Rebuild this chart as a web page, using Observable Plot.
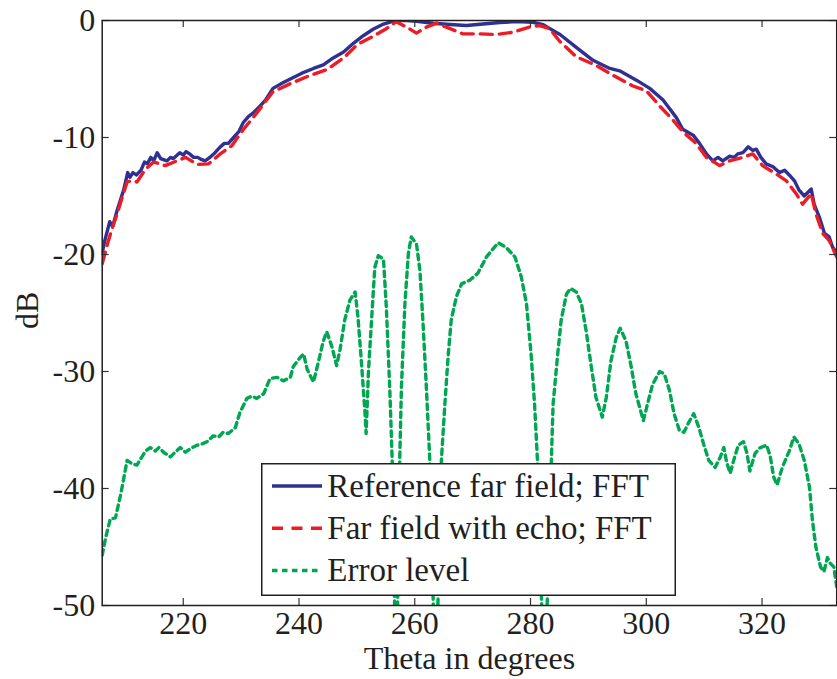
<!DOCTYPE html>
<html>
<head>
<meta charset="utf-8">
<script src="https://cdn.jsdelivr.net/npm/d3@7"></script>
<script src="https://cdn.jsdelivr.net/npm/@observablehq/plot@0.6"></script>
<style>
  html, body { margin: 0; padding: 0; background: #fff; }
  #wrap { position: relative; width: 837px; height: 679px; overflow: hidden; }
  #legend { position: absolute; left: 261px; top: 463px; }
</style>
</head>
<body>
<div id="wrap"></div>
<script>
// ---- data ----
const xTicks = [220, 240, 260, 280, 300, 320];
const yTicks = [-50, -40, -30, -20, -10, 0];
const seriesNames = ["Reference far field; FFT", "Far field with echo; FFT", "Error level"];
const seriesColors = ["#2E3192", "#ED1C24", "#00A651"];

const refTheta = [206.0,206.4,207.3,207.8,208.6,209.3,209.7,210.4,210.8,211.3,211.9,212.7,213.3,213.8,214.4,214.9,215.5,216.1,217.2,217.8,218.3,219.4,220.0,220.5,221.1,221.8,222.5,223.2,223.8,224.6,225.5,226.4,227.1,227.8,228.7,229.6,230.4,231.3,232.1,233.3,234.2,235.5,237.3,238.5,240.5,242.5,244.2,245.9,247.7,249.4,251.1,252.8,254.6,256.3,257.4,258.6,260.3,263.2,266.1,268.9,271.8,274.7,277.6,280.4,282.2,284.4,285.1,287.9,290.8,293.7,295.4,298.3,300.6,302.9,305.2,306.3,308.1,309.2,310.4,311.5,312.4,313.2,314.4,315.2,315.8,316.7,317.6,318.4,319.0,319.8,320.7,321.9,323.0,323.9,324.7,325.6,326.4,327.3,328.5,329.0,329.9,330.8,331.6,332.2,332.9];
const refDb = [-19.9,-18.9,-17.2,-17.6,-16.2,-15.1,-14.5,-13.0,-13.4,-13.0,-13.2,-12.8,-12.1,-12.25,-11.7,-12.0,-11.3,-11.8,-12.0,-11.7,-11.8,-11.3,-11.5,-11.2,-11.4,-11.7,-11.7,-11.9,-12.0,-11.7,-11.3,-10.8,-10.5,-10.5,-10.0,-9.5,-8.7,-8.2,-7.9,-7.3,-6.8,-5.8,-5.3,-5.0,-4.5,-4.1,-3.8,-3.2,-2.7,-1.95,-1.3,-0.75,-0.3,-0.06,0,0,-0.06,-0.23,-0.34,-0.43,-0.3,-0.17,-0.1,-0.15,-0.35,-1.0,-1.2,-2.3,-3.4,-4.1,-4.3,-5.1,-5.8,-6.8,-8.3,-9.3,-9.8,-10.5,-11.4,-12.0,-11.7,-12.0,-11.6,-11.7,-11.4,-11.3,-10.8,-11.1,-11.0,-11.7,-12.25,-12.5,-13.0,-12.8,-13.2,-13.7,-14.5,-15.0,-14.4,-15.7,-16.8,-18.2,-18.5,-19.4,-19.8];

const echoTheta = [206.0,206.9,207.7,208.6,209.4,210.3,211.0,212.0,213.5,214.9,216.9,218.9,220.4,222.4,224.4,226.4,228.4,230.4,232.4,234.4,235.5,238.5,241.9,244.8,247.7,250.1,252.8,255.1,256.8,258.6,260.3,262.0,263.8,266.1,268.3,271.2,274.1,277.0,279.8,281.6,283.3,285.0,287.9,291.4,294.3,297.7,300.0,302.3,304.6,306.3,308.6,310.4,312.7,314.4,316.7,318.4,320.1,322.4,324.2,325.9,327.0,328.5,329.3,330.5,331.6,332.9];
const echoDb = [-20.8,-19.1,-17.8,-16.5,-15.2,-13.8,-13.7,-13.8,-12.7,-12.1,-12.4,-12.0,-11.7,-12.3,-12.25,-11.4,-10.7,-9.3,-8.1,-6.8,-6.1,-5.4,-4.7,-4.2,-3.2,-2.05,-1.35,-0.7,-0.1,-0.57,-1.08,-0.57,-0.23,-0.7,-1.14,-1.14,-1.2,-1.0,-0.57,-0.43,-0.7,-1.75,-3.1,-3.85,-4.7,-5.6,-6.0,-7.3,-8.5,-9.5,-10.5,-11.7,-12.4,-12.0,-11.7,-11.4,-12.4,-13.1,-13.7,-14.8,-15.7,-14.8,-16.5,-18.2,-18.8,-20.2];

const errTheta = [206.0,206.6,207.4,208.3,209.2,209.7,210.3,211.2,212.0,212.6,213.5,214.3,215.2,215.8,216.6,217.8,218.6,219.5,220.4,221.2,222.4,223.2,224.1,225.2,226.1,226.9,227.8,229.0,229.8,231.0,231.9,232.7,233.9,235.0,236.2,237.3,238.5,239.0,240.2,240.8,241.4,242.5,243.3,244.2,244.8,245.7,246.5,247.1,247.9,248.8,249.7,250.2,250.8,251.4,251.6,252.0,252.6,253.1,253.7,254.6,255.1,255.7,256.1,256.8,257.4,257.7,258.3,258.9,259.4,260.3,260.9,261.4,262.0,262.6,263.6,264.6,265.2,265.8,266.3,267.2,268.1,269.5,270.9,272.4,274.4,275.8,277.3,278.4,279.3,280.1,280.7,281.2,282.4,283.6,283.9,284.7,285.3,286.2,286.9,287.9,288.8,289.6,290.5,291.3,292.4,293.1,293.9,294.8,295.5,296.5,297.4,298.2,299.5,300.2,301.1,302.3,303.1,304.0,304.8,305.7,306.5,307.4,308.2,309.1,309.9,310.8,311.9,312.8,313.4,313.9,314.5,315.1,315.9,316.8,317.4,317.9,318.8,319.7,320.8,321.4,322.0,322.6,323.5,324.7,325.5,326.4,327.3,328.2,328.7,329.3,330.1,330.7,331.3,331.8,332.4,332.9];
const errDb = [-45.7,-44.2,-42.6,-42.5,-40.5,-39.2,-37.6,-37.9,-38.0,-37.5,-36.8,-36.5,-36.8,-36.5,-36.9,-37.3,-36.9,-36.5,-36.9,-36.6,-36.3,-36.2,-36.0,-35.5,-35.6,-35.2,-35.3,-34.8,-33.5,-32.3,-32.1,-32.3,-31.9,-30.6,-30.5,-30.8,-30.5,-29.6,-28.8,-28.5,-29.8,-30.9,-29.3,-27.4,-26.6,-27.9,-29.5,-28.1,-25.6,-23.9,-23.2,-25.4,-29.3,-33.5,-35.3,-30.0,-25.1,-21.1,-20.1,-20.4,-24.6,-31.7,-37.6,-58,-37.6,-31.3,-24.2,-19.9,-18.5,-19.1,-21.4,-25.6,-31.3,-37.6,-58,-37.6,-32.8,-28.5,-25.6,-23.6,-22.5,-22.2,-21.6,-20.2,-19.0,-19.4,-20.2,-21.9,-24.2,-28.5,-32.8,-37.6,-58,-37.6,-32.8,-28.5,-25.6,-23.4,-22.9,-23.2,-24.2,-26.5,-29.6,-32.2,-33.9,-32.2,-29.1,-27.1,-26.3,-27.4,-29.6,-31.9,-34.2,-32.8,-31.1,-30.0,-30.2,-31.6,-33.6,-35.0,-35.2,-34.3,-33.6,-34.8,-36.2,-37.6,-38.2,-37.3,-36.5,-37.8,-38.7,-37.6,-36.3,-36.0,-37.0,-38.5,-37.0,-36.5,-36.3,-37.2,-39.0,-39.7,-38.2,-36.8,-35.6,-36.2,-37.6,-39.9,-42.7,-45.0,-46.7,-47.1,-45.9,-46.4,-46.7,-48.4];

const ref = refTheta.map((t, i) => ({theta: t, db: refDb[i]}));
const echo = echoTheta.map((t, i) => ({theta: t, db: echoDb[i]}));
const err = errTheta.map((t, i) => ({theta: t, db: errDb[i]}));

// ---- layout ----
const W = 837, H = 679;
const mL = 101.7, mR = 0.8, mT = 20, mB = 74;
const frameW = W - mL - mR, frameH = H - mT - mB;
const tickLen = 7;
const ink = "#231F20";
const font = "'Liberation Serif', 'Times New Roman', Times, serif";

const chart = Plot.plot({
  width: W, height: H,
  marginLeft: mL, marginRight: mR, marginTop: mT, marginBottom: mB,
  style: {fontFamily: font, fontSize: "32px", color: ink, background: "#fff"},
  x: {domain: [206, 332.9]},
  y: {domain: [-50, 0]},
  marks: [
    Plot.line(ref, {x: "theta", y: "db", stroke: seriesColors[0], strokeWidth: 3.4, clip: "frame"}),
    Plot.line(echo, {x: "theta", y: "db", stroke: seriesColors[1], strokeWidth: 3.4, strokeDasharray: "12,7", clip: "frame"}),
    Plot.line(err, {x: "theta", y: "db", stroke: seriesColors[2], strokeWidth: 3.4, strokeDasharray: "5.5,4.5", clip: "frame"}),
    Plot.ruleX(xTicks, {x: d => d, insetTop: frameH - tickLen, stroke: "#333", strokeWidth: 1.2}),
    Plot.ruleX(xTicks, {x: d => d, insetBottom: frameH - tickLen, stroke: "#333", strokeWidth: 1.2}),
    Plot.ruleY(yTicks, {y: d => d, insetRight: frameW - tickLen, stroke: "#333", strokeWidth: 1.2}),
    Plot.ruleY(yTicks, {y: d => d, insetLeft: frameW - tickLen, stroke: "#333", strokeWidth: 1.2}),
    Plot.frame({stroke: ink, strokeWidth: 1.5}),
    Plot.axisX(xTicks, {tickSize: 0, tickPadding: 6, label: null, tickFormat: d => String(d), fontSize: 32, fontFamily: font, fill: ink}),
    Plot.axisY(yTicks, {tickSize: 0, tickPadding: 7, label: null, tickFormat: d => String(d), fontSize: 32, fontFamily: font, fill: ink}),
    Plot.text(["Theta in degrees"], {frameAnchor: "bottom", dy: 63, fontSize: 32, fontFamily: font, fill: ink}),
    Plot.text(["dB"], {frameAnchor: "left", rotate: -90, dx: -74, dy: 16, fontSize: 32, fontFamily: font, fill: ink})
  ]
});
document.getElementById("wrap").appendChild(chart);

// ---- legend (drawn on top of the plot, inside the frame) ----
const lg = d3.select("#wrap").append("svg").attr("id", "legend")
  .attr("width", 416).attr("height", 134);
lg.append("rect").attr("x", 0.75).attr("y", 0.75).attr("width", 413.5).attr("height", 131.5)
  .attr("fill", "#fff").attr("stroke", ink).attr("stroke-width", 1.5);
const dashes = [null, "11,8.5", "5.5,4.5"];
seriesNames.forEach((name, i) => {
  const cy = 23 + i * 42.3;
  lg.append("line").attr("x1", 11).attr("x2", 61).attr("y1", cy).attr("y2", cy)
    .attr("stroke", seriesColors[i]).attr("stroke-width", 3.5)
    .attr("stroke-dasharray", dashes[i]);
  lg.append("text").attr("x", 66.3).attr("y", cy + 10.8)
    .attr("font-family", font).attr("font-size", 33).attr("fill", ink).text(name);
});
</script>
</body>
</html>
